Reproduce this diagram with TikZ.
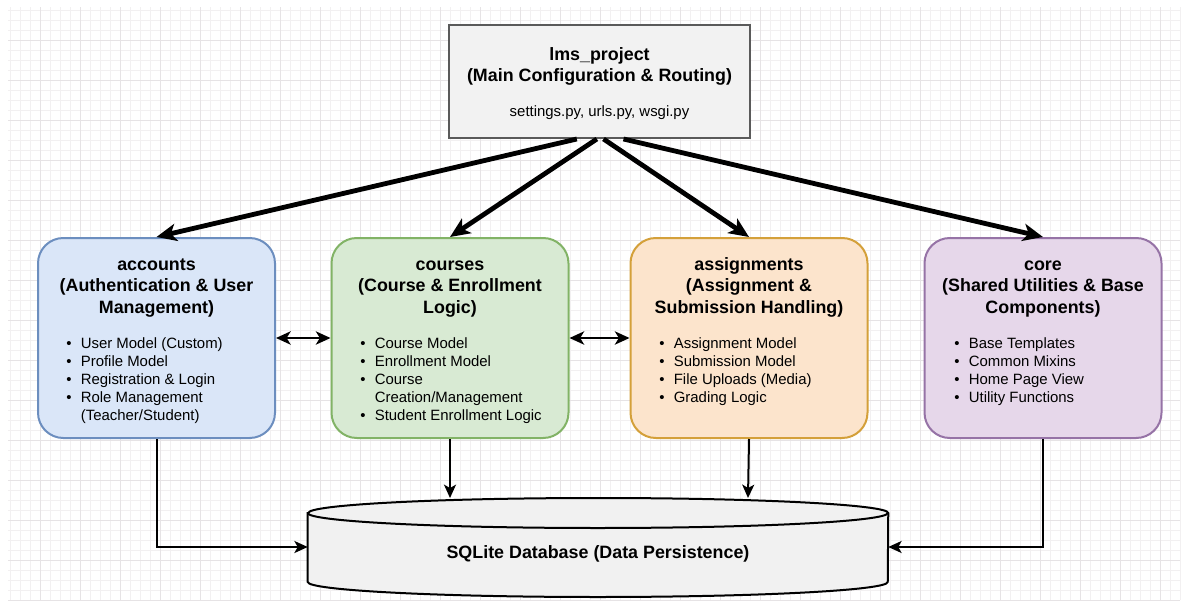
\documentclass[tikz,border=0pt]{standalone}
\usepackage{fontspec}
\setmainfont{Liberation Sans}
\usetikzlibrary{arrows.meta}

\definecolor{gridminor}{HTML}{F2F0F1}
\definecolor{gridmajor}{HTML}{E6E3E5}
\definecolor{mainfill}{HTML}{F2F2F2}
\definecolor{mainline}{HTML}{5A5A5A}
\definecolor{accfill}{HTML}{DAE6F8}
\definecolor{accline}{HTML}{6C8EBF}
\definecolor{crsfill}{HTML}{D8EAD3}
\definecolor{crsline}{HTML}{82B366}
\definecolor{asgfill}{HTML}{FCE4CC}
\definecolor{asgline}{HTML}{D4A03A}
\definecolor{corefill}{HTML}{E6D7EA}
\definecolor{coreline}{HTML}{9673A6}
\definecolor{dbfill}{HTML}{F1F1F1}

\tikzset{
  module/.style={draw, line width=1.5pt, rounded corners=19pt,
    minimum width=177.75pt, minimum height=150pt, inner sep=0pt},
  titletext/.style={inner sep=0pt, anchor=base,
    font=\fontsize{13.4}{16.2}\selectfont\bfseries},
  listtext/.style={inner sep=0pt, anchor=base west,
    font=\fontsize{11.2}{13.5}\selectfont},
  bigarrow/.style={line width=3.6pt,
    -{Stealth[length=15pt,width=13pt,inset=4pt]}},
  linkarrow/.style={line width=1.5pt,
    -{Stealth[length=10pt,width=9pt,inset=2.5pt]}},
  duplex/.style={line width=1.5pt,
    {Stealth[length=11pt,width=10pt,inset=3pt]}-{Stealth[length=11pt,width=10pt,inset=3pt]}},
}

\newcommand\blist[1]{\begin{tabular}[t]{@{}l@{\hspace{7pt}}l@{}}#1\end{tabular}}
\newcommand\ttl[1]{\begin{tabular}[t]{@{}c@{}}#1\end{tabular}}

\begin{document}
\begin{tikzpicture}[x=0.75pt,y=-0.75pt]
  % page and squared paper
  \fill[white] (0,0) rectangle (1188,606);
  \useasboundingbox (0,0) rectangle (1188,606);
  \draw[gridminor, line width=0.4pt, step=7.5pt] (8,7) grid (1180,600);
  \draw[gridmajor, line width=0.6pt, step=30pt] (8,7) grid (1180,600);

  % project configuration package
  \node[draw=mainline, fill=mainfill, line width=1.5pt, inner sep=0pt,
        minimum width=225.75pt, minimum height=84.75pt] (lms) at (599.5,81.5) {};
  \node[titletext, font=\fontsize{13.4}{15.2}\selectfont\bfseries] (lms-t) at (599.5,61)
    {\ttl{lms\_project\\(Main Configuration \& Routing)}};
  \node[inner sep=0pt, anchor=base, font=\fontsize{11.2}{13.5}\selectfont] (lms-f) at (599.5,117)
    {settings.py, urls.py, wsgi.py};

  % application modules
  \node[module, draw=accline, fill=accfill] (acc) at (156.5,338) {};
  \node[titletext] (acc-t) at (156.5,270)
    {\ttl{accounts\\(Authentication \& User\\Management)}};
  \node[listtext] (acc-l) at (66,348)
    {\blist{\textbullet & User Model (Custom)\\ \textbullet & Profile Model\\
      \textbullet & Registration \& Login\\ \textbullet & Role Management\\
      & (Teacher/Student)}};

  \node[module, draw=crsline, fill=crsfill] (crs) at (450,338) {};
  \node[titletext] (crs-t) at (450,270)
    {\ttl{courses\\(Course \& Enrollment\\Logic)}};
  \node[listtext] (crs-l) at (360,348)
    {\blist{\textbullet & Course Model\\ \textbullet & Enrollment Model\\
      \textbullet & Course\\ & Creation/Management\\
      \textbullet & Student Enrollment Logic}};

  \node[module, draw=asgline, fill=asgfill] (asg) at (749,338) {};
  \node[titletext] (asg-t) at (749,270)
    {\ttl{assignments\\(Assignment \&\\Submission Handling)}};
  \node[listtext] (asg-l) at (659,348)
    {\blist{\textbullet & Assignment Model\\ \textbullet & Submission Model\\
      \textbullet & File Uploads (Media)\\ \textbullet & Grading Logic}};

  \node[module, draw=coreline, fill=corefill] (core) at (1043,338) {};
  \node[titletext] (core-t) at (1043,270)
    {\ttl{core\\(Shared Utilities \& Base\\Components)}};
  \node[listtext] (core-l) at (954,348)
    {\blist{\textbullet & Base Templates\\ \textbullet & Common Mixins\\
      \textbullet & Home Page View\\ \textbullet & Utility Functions}};

  % database cylinder (y grows downwards, so an arc through 90 degrees bulges down)
  \node[inner sep=0pt, minimum width=435pt, minimum height=75pt] (db) at (598,547) {};
  \filldraw[fill=dbfill, draw=black, line width=1.5pt]
    (db.west |- 0,513) -- (db.west |- 0,582)
    arc[start angle=180, end angle=0, x radius=290, y radius=15]
    -- (db.east |- 0,513)
    arc[start angle=0, end angle=-180, x radius=290, y radius=15] -- cycle;
  \draw[line width=1.5pt] (db.west |- 0,513)
    arc[start angle=180, end angle=0, x radius=290, y radius=15];
  \node[titletext] (db-t) at (598,558) {SQLite Database (Data Persistence)};
  \coordinate (db-top-c) at (450,498);
  \coordinate (db-top-a) at (748,498);

  % configuration includes every module
  \draw[bigarrow] ([xshift=-17pt]lms.south) -- (acc.north);
  \draw[bigarrow] ([xshift=-2pt]lms.south) -- (crs.north);
  \draw[bigarrow] ([xshift=3pt]lms.south) -- (asg.north);
  \draw[bigarrow] ([xshift=18pt]lms.south) -- (core.north);

  % cross-module relations
  \draw[duplex] (acc.east) -- (crs.west);
  \draw[duplex] (crs.east) -- (asg.west);

  % persistence links
  \draw[linkarrow] (crs.south) -- (db-top-c);
  \draw[linkarrow] (asg.south) -- (db-top-a);
  \draw[linkarrow] (acc.south) |- (db.west);
  \draw[linkarrow] (core.south) |- (db.east);
\end{tikzpicture}
\end{document}
